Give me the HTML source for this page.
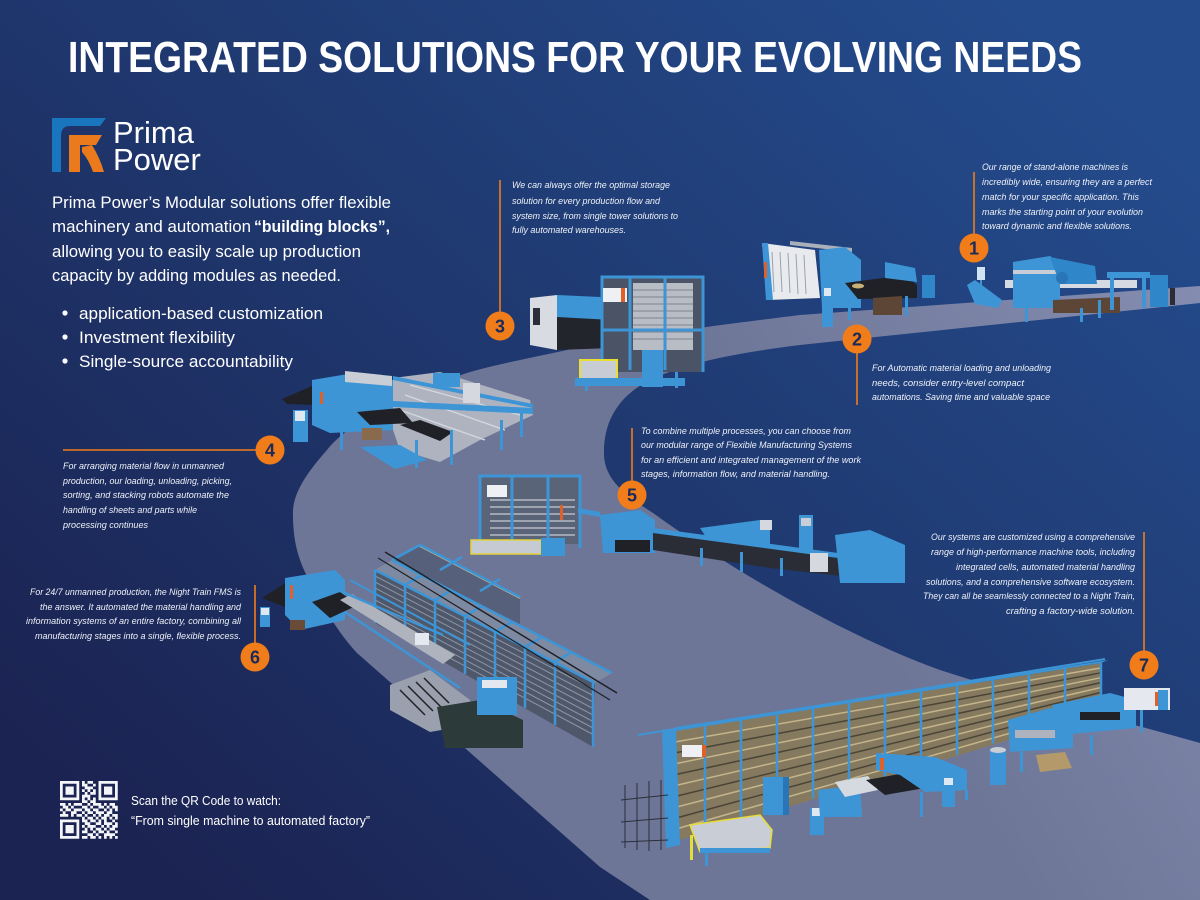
<!DOCTYPE html>
<html><head><meta charset="utf-8"><style>
html,body{margin:0;padding:0;background:#1f3570;}
svg{display:block}
text{font-family:"Liberation Sans",sans-serif;}
.it{font-style:italic;font-size:9.5px;fill:#eef1f7;}
.p{font-size:17px;fill:#ffffff;}
</style></head><body>
<svg width="1200" height="900" viewBox="0 0 1200 900" xmlns="http://www.w3.org/2000/svg">
<defs>
<linearGradient id="bg" gradientUnits="userSpaceOnUse" x1="1000" y1="0" x2="200" y2="900">
<stop offset="0" stop-color="#244b8c"/><stop offset="0.5" stop-color="#1f386f"/><stop offset="1" stop-color="#1b2352"/></linearGradient>
<linearGradient id="pg" gradientUnits="userSpaceOnUse" x1="1200" y1="280" x2="800" y2="520">
<stop offset="0" stop-color="#848db0"/><stop offset="1" stop-color="#6e7698"/></linearGradient>
</defs>
<rect width="1200" height="900" fill="url(#bg)"/>
<!-- path swoosh -->
<path d="M1200,286 L800,315 C760,320 720,325 700,328 C640,336 600,343 567,350 C520,360 490,366 467,373 C420,388 350,420 327,450 C305,475 292,495 293,515 C293,545 300,565 313,587 C325,610 340,635 357,653 L600,867 L650,900 L1200,900 L1200,743 C1100,715 1000,690 940,670 C870,645 760,590 653,513 C625,495 605,480 604,455 C603,420 620,395 650,380 C680,366 720,355 800,345 L1200,303 Z" fill="url(#pg)"/>

<!-- Title -->
<text x="68" y="72" font-size="44" font-weight="bold" fill="#fff" textLength="1014" lengthAdjust="spacingAndGlyphs">INTEGRATED SOLUTIONS FOR YOUR EVOLVING NEEDS</text>

<!-- Logo -->
<path d="M52,118 H106 L100,126 H70 Q61,126 61,136 V172 H52 Z" fill="#1a75bf"/>
<path d="M69,135 H102 L96,145 H80 V172 H69 Z" fill="#ea7a1c"/>
<path d="M82,147 L92,145 Q100,158 104,172 H93 Q89,160 82,152 Z" fill="#ea7a1c"/>
<text x="113" y="143" font-size="31" fill="#fff">Prima</text>
<text x="113" y="170" font-size="31" fill="#fff">Power</text>

<!-- Paragraph -->
<text class="p" x="52" y="208" textLength="339" lengthAdjust="spacingAndGlyphs">Prima Power’s Modular solutions offer flexible</text>
<text class="p" x="52" y="232" textLength="199" lengthAdjust="spacingAndGlyphs">machinery and automation</text>
<text class="p" x="254" y="232" font-weight="bold" textLength="136" lengthAdjust="spacingAndGlyphs">“building blocks”,</text>
<text class="p" x="52" y="257" textLength="309" lengthAdjust="spacingAndGlyphs">allowing you to easily scale up production</text>
<text class="p" x="52" y="281" textLength="289" lengthAdjust="spacingAndGlyphs">capacity by adding modules as needed.</text>
<circle cx="65" cy="313" r="2.6" fill="#fff"/><circle cx="65" cy="337" r="2.6" fill="#fff"/><circle cx="65" cy="361" r="2.6" fill="#fff"/>
<text class="p" x="79" y="319" textLength="244" lengthAdjust="spacingAndGlyphs">application-based customization</text>
<text class="p" x="79" y="343" textLength="156" lengthAdjust="spacingAndGlyphs">Investment flexibility</text>
<text class="p" x="79" y="367" textLength="214" lengthAdjust="spacingAndGlyphs">Single-source accountability</text>

<!-- ============ MACHINE 1 ============ -->
<g>
<rect x="1005" y="280" width="132" height="8" fill="#d6dae2"/>
<path d="M1013,262 L1050,256 L1060,262 L1060,308 L1013,308 Z" fill="#3d95d6"/>
<rect x="1013" y="270" width="47" height="4" fill="#c9ced6"/>
<path d="M1050,257 L1095,266 L1097,284 L1060,284 Z" fill="#2f86c8"/>
<circle cx="1062" cy="278" r="6" fill="#2a74b8"/>
<path d="M1053,300 L1120,297 L1120,313 L1053,313 Z" fill="#5e4636"/>
<rect x="1107" y="272" width="43" height="6" fill="#3d95d6"/>
<rect x="1110" y="278" width="4" height="32" fill="#3d95d6"/><rect x="1142" y="278" width="4" height="30" fill="#3d95d6"/>
<rect x="1150" y="275" width="18" height="32" fill="#2f86c8"/>
<rect x="1170" y="288" width="5" height="17" fill="#2a2d35"/>
<path d="M967,285 L975,280 L1002,300 L998,308 L975,304 Z" fill="#3d95d6"/>
<rect x="977" y="267" width="8" height="13" fill="#cfe3f2"/><rect x="980" y="280" width="2" height="25" fill="#3d95d6"/>
<rect x="1025" y="300" width="3" height="22" fill="#3d95d6"/><rect x="1080" y="308" width="3" height="14" fill="#3d95d6"/>
<rect x="1098" y="300" width="3" height="18" fill="#3d95d6"/>
</g>

<!-- ============ MACHINE 2 ============ -->
<g>
<path d="M790,241 L852,248 L852,252 L790,245 Z" fill="#aab0ba"/>
<path d="M762,243 L815,250 L820,298 L768,300 Z" fill="#e8eaee"/>
<g stroke="#9aa1ad" stroke-width="1"><line x1="772" y1="252" x2="774" y2="292"/><line x1="780" y1="252" x2="782" y2="292"/><line x1="788" y1="253" x2="790" y2="293"/><line x1="796" y1="254" x2="798" y2="294"/><line x1="804" y1="255" x2="806" y2="294"/></g>
<path d="M762,243 L768,243 L773,300 L766,300 Z" fill="#3d95d6"/>
<rect x="764" y="262" width="3" height="16" fill="#e0602a"/>
<path d="M819,250 L845,247 L861,260 L861,308 L822,308 Z" fill="#3d95d6"/>
<path d="M845,283 L905,275 L917,285 L917,298 L858,299 Z" fill="#1f2126"/>
<ellipse cx="858" cy="286" rx="6" ry="2.5" fill="#c8b27a"/>
<path d="M885,262 L915,268 L917,282 L885,278 Z" fill="#3d95d6"/>
<path d="M873,298 L902,296 L902,315 L873,315 Z" fill="#5e4636"/>
<rect x="822" y="287" width="11" height="40" fill="#3d95d6"/><rect x="824" y="288" width="7" height="8" fill="#dfe8f0"/>
<rect x="922" y="275" width="13" height="23" fill="#2f86c8"/>
<rect x="848" y="305" width="3" height="15" fill="#3d95d6"/><rect x="905" y="296" width="3" height="20" fill="#3d95d6"/>
</g>

<!-- ============ MACHINE 3 ============ -->
<g>
<path d="M530,298 L557,295 L557,350 L530,345 Z" fill="#d8dbe1"/>
<rect x="533" y="308" width="7" height="17" fill="#2a2e3a"/>
<path d="M557,295 L600,297 L612,312 L612,320 L557,318 Z" fill="#3d95d6"/>
<path d="M557,317 L612,320 L612,348 L557,350 Z" fill="#22252c"/>
<rect x="612" y="320" width="3" height="26" fill="#e0602a"/>
<rect x="602" y="277" width="101" height="95" fill="#4b5466"/>
<rect x="633" y="283" width="60" height="67" fill="#b8bcc4"/>
<g stroke="#7f8591" stroke-width="1"><line x1="633" y1="290" x2="693" y2="290"/><line x1="633" y1="297" x2="693" y2="297"/><line x1="633" y1="304" x2="693" y2="304"/><line x1="633" y1="311" x2="693" y2="311"/><line x1="633" y1="318" x2="693" y2="318"/><line x1="633" y1="325" x2="693" y2="325"/><line x1="633" y1="332" x2="693" y2="332"/><line x1="633" y1="339" x2="693" y2="339"/></g>
<g fill="none" stroke="#3d95d6" stroke-width="3"><path d="M602,372 V277 H703 V372"/><line x1="630" y1="277" x2="630" y2="370"/><line x1="665" y1="277" x2="665" y2="370"/><line x1="602" y1="330" x2="703" y2="330"/></g>
<rect x="603" y="288" width="24" height="14" fill="#eef0f3"/><rect x="621" y="288" width="4" height="14" fill="#e0602a"/>
<rect x="580" y="360" width="37" height="23" fill="#c8ccd4" stroke="#e8e030" stroke-width="2"/>
<rect x="575" y="378" width="110" height="8" fill="#3d95d6"/>
<rect x="642" y="350" width="21" height="37" fill="#3d95d6"/>
<rect x="585" y="383" width="3" height="8" fill="#3d95d6"/><rect x="675" y="372" width="3" height="16" fill="#3d95d6"/>
</g>

<!-- ============ MACHINE 4 ============ -->
<g>
<path d="M393,378 L440,372 L530,400 L533,415 L480,440 L440,462 L400,450 L393,430 Z" fill="#aeb3bf"/>
<g stroke="#d5d8de" stroke-width="1.2"><line x1="405" y1="395" x2="505" y2="430"/><line x1="410" y1="385" x2="520" y2="415"/><line x1="400" y1="410" x2="485" y2="440"/></g>
<path d="M282,399 L312,386 L316,405 L287,404 Z" fill="#1f2126"/>
<path d="M312,380 L348,374 L393,380 L393,430 L330,433 L312,425 Z" fill="#3d95d6"/>
<path d="M345,371 L392,376 L392,386 L345,382 Z" fill="#c9cdd5"/>
<rect x="320" y="392" width="3" height="12" fill="#e0602a"/>
<path d="M333,398 L533,408 L533,414 L333,404 Z" fill="#3d95d6"/>
<path d="M393,376 L533,404 L533,408 L393,380 Z" fill="#3d95d6"/>
<path d="M400,425 L420,420 L453,432 L440,441 Z" fill="#1f2126"/>
<path d="M357,412 L400,408 L413,423 L370,425 Z" fill="#1f2126"/>
<path d="M360,447 L400,445 L427,460 L395,469 Z" fill="#3d95d6"/>
<rect x="293" y="410" width="15" height="32" fill="#3d95d6"/><rect x="295" y="411" width="10" height="10" fill="#dfe8f0"/>
<rect x="433" y="373" width="27" height="14" fill="#3d95d6"/>
<rect x="463" y="383" width="17" height="20" fill="#d5d8de"/>
<rect x="362" y="428" width="20" height="12" fill="#8a6a4c"/>
<g fill="#3d95d6"><rect x="340" y="430" width="3" height="20"/><rect x="415" y="440" width="3" height="28"/><rect x="450" y="430" width="3" height="35"/><rect x="500" y="420" width="3" height="30"/><rect x="520" y="412" width="3" height="25"/></g>
</g>

<!-- ============ MACHINE 5 ============ -->
<g>
<rect x="480" y="476" width="100" height="68" fill="#5a6478"/>
<g stroke="#b5b9c2" stroke-width="1.5"><line x1="490" y1="500" x2="575" y2="500"/><line x1="490" y1="507" x2="575" y2="507"/><line x1="490" y1="514" x2="575" y2="514"/><line x1="490" y1="521" x2="575" y2="521"/><line x1="490" y1="528" x2="575" y2="528"/><line x1="490" y1="535" x2="575" y2="535"/></g>
<g fill="none" stroke="#3d95d6" stroke-width="3"><path d="M480,548 V476 H580 V548"/><line x1="512" y1="476" x2="512" y2="546"/><line x1="548" y1="476" x2="548" y2="546"/></g>
<rect x="487" y="485" width="20" height="12" fill="#eef0f3"/><rect x="560" y="505" width="3" height="15" fill="#e0602a"/>
<rect x="471" y="540" width="70" height="14" fill="#c5cad3" stroke="#e3d23a" stroke-width="1.5"/>
<rect x="541" y="538" width="24" height="18" fill="#3d95d6"/>
<path d="M578,508 L600,512 L600,517 L578,513 Z" fill="#3d95d6"/>
<path d="M600,515 L640,510 L655,520 L655,553 L603,553 Z" fill="#3d95d6"/>
<rect x="615" y="540" width="35" height="12" fill="#1f2126"/>
<path d="M653,530 L770,545 L905,565 L905,583 L770,568 L653,550 Z" fill="#2a2d35"/>
<path d="M653,528 L905,562 L905,567 L653,533 Z" fill="#3d95d6"/>
<path d="M700,528 L760,520 L770,530 L770,545 L708,540 Z" fill="#3d95d6"/>
<rect x="760" y="520" width="12" height="10" fill="#d5d8de"/>
<rect x="799" y="515" width="14" height="37" fill="#3d95d6"/><rect x="801" y="518" width="10" height="8" fill="#c9cdd5"/>
<path d="M835,535 L870,530 L905,545 L905,583 L840,583 Z" fill="#3d95d6"/>
<rect x="810" y="553" width="18" height="19" fill="#d5d8de"/>
<g fill="#3d95d6"><rect x="700" y="548" width="3" height="18"/><rect x="740" y="552" width="3" height="20"/><rect x="780" y="558" width="3" height="18"/></g>
</g>

<!-- ============ MACHINE 6 ============ -->
<g>
<!-- back row -->
<path d="M392,560 L420,545 L520,597 L520,628 L392,592 Z" fill="#56607a"/>
<line x1="420" y1="546" x2="520" y2="598" stroke="#c9b88a" stroke-width="2"/>
<!-- front wall -->
<path d="M375,570 L595,683 L593,747 L375,623 Z" fill="#4f586b"/>
<g stroke="#8d94a2" stroke-width="1">
<line x1="375" y1="576" x2="594" y2="689.5"/><line x1="375" y1="582" x2="594" y2="696"/><line x1="375" y1="588" x2="594" y2="702.5"/><line x1="375" y1="594" x2="594" y2="709"/><line x1="375" y1="600" x2="594" y2="715.5"/><line x1="375" y1="606" x2="594" y2="722"/><line x1="375" y1="612" x2="594" y2="728.5"/><line x1="375" y1="618" x2="594" y2="735"/></g>
<g stroke="#3d95d6" stroke-width="2.5"><line x1="375" y1="570" x2="375" y2="623"/><line x1="405" y1="585.4" x2="405" y2="640"/><line x1="435" y1="600.8" x2="435" y2="657"/><line x1="465" y1="616.3" x2="465" y2="674"/><line x1="495" y1="631.7" x2="495" y2="691"/><line x1="525" y1="647" x2="525" y2="708"/><line x1="555" y1="662.5" x2="555" y2="725"/><line x1="593" y1="682" x2="593" y2="747"/></g>
<!-- top face front row -->
<path d="M375,570 L392,560 L612,673 L595,683 Z" fill="#7e8aa2"/>
<g stroke="#3d95d6" stroke-width="2.5" fill="none"><line x1="375" y1="570" x2="595" y2="683"/><line x1="392" y1="560" x2="612" y2="673"/>
<line x1="405" y1="585" x2="422" y2="575"/><line x1="435" y1="600" x2="452" y2="590"/><line x1="465" y1="616" x2="482" y2="606"/><line x1="495" y1="632" x2="512" y2="622"/><line x1="525" y1="647" x2="542" y2="637"/><line x1="555" y1="662" x2="572" y2="652"/>
<line x1="392" y1="560" x2="420" y2="545"/><line x1="420" y1="545" x2="520" y2="597"/><line x1="440" y1="570" x2="462" y2="557"/><line x1="480" y1="591" x2="500" y2="579"/></g>
<line x1="385" y1="552" x2="617" y2="693" stroke="#1e2026" stroke-width="1.5"/>
<line x1="378" y1="558" x2="610" y2="700" stroke="#1e2026" stroke-width="1.2"/>
<!-- front machine -->
<path d="M262,598 L290,580 L310,588 L285,607 Z" fill="#1f2126"/>
<path d="M285,578 L335,570 L345,580 L345,620 L300,630 L285,615 Z" fill="#3d95d6"/>
<rect x="290" y="585" width="3" height="14" fill="#e0602a"/>
<path d="M312,602 L340,592 L358,605 L330,618 Z" fill="#1f2126"/>
<rect x="260" y="607" width="10" height="20" fill="#3d95d6"/><rect x="261" y="608" width="8" height="7" fill="#dfe8f0"/>
<path d="M340,600 L352,594 L455,655 L443,664 Z" fill="#aeb3be"/>
<line x1="338" y1="590" x2="443" y2="635" stroke="#3d95d6" stroke-width="2.5"/>
<line x1="345" y1="612" x2="460" y2="688" stroke="#3d95d6" stroke-width="2.5"/>
<line x1="350" y1="580" x2="470" y2="645" stroke="#3d95d6" stroke-width="2"/>
<rect x="415" y="633" width="14" height="12" fill="#e5e8ee"/>
<path d="M390,685 L430,670 L470,700 L470,725 L430,732 L390,710 Z" fill="#9aa0ad"/>
<g stroke="#1f2126" stroke-width="1.5"><line x1="400" y1="690" x2="425" y2="715"/><line x1="408" y1="686" x2="433" y2="711"/><line x1="416" y1="682" x2="441" y2="707"/><line x1="424" y1="678" x2="449" y2="703"/></g>
<path d="M437,707 L480,700 L523,720 L523,748 L445,748 Z" fill="#2d3a3a"/>
<rect x="477" y="677" width="40" height="38" fill="#3d95d6"/><rect x="482" y="680" width="25" height="8" fill="#e5e8ee"/>
<rect x="290" y="620" width="15" height="10" fill="#6a4b37"/>
</g>

<!-- ============ MACHINE 7 ============ -->
<g>
<path d="M669,732 L1101,663 L1101,712 L673,842 Z" fill="#857a60"/>
<g stroke="#c4b48a" stroke-width="1.5"><line x1="669" y1="743" x2="1101" y2="667.9"/><line x1="669" y1="765" x2="1101" y2="677.7"/><line x1="669" y1="787" x2="1101" y2="687.5"/><line x1="669" y1="809" x2="1101" y2="697.3"/><line x1="669" y1="831" x2="1101" y2="707.1"/></g>
<g stroke="#4a4436" stroke-width="1.5"><line x1="669" y1="754" x2="1101" y2="672.8"/><line x1="669" y1="776" x2="1101" y2="682.6"/><line x1="669" y1="798" x2="1101" y2="692.4"/><line x1="669" y1="820" x2="1101" y2="702.2"/></g>
<g stroke="#3d95d6" stroke-width="2.5"><line x1="705" y1="726.3" x2="705" y2="831.1"/><line x1="741" y1="720.5" x2="741" y2="820.1"/><line x1="777" y1="714.8" x2="777" y2="809.2"/><line x1="813" y1="709" x2="813" y2="798.3"/><line x1="849" y1="703.3" x2="849" y2="787.3"/><line x1="885" y1="697.5" x2="885" y2="776.4"/><line x1="921" y1="691.8" x2="921" y2="765.5"/><line x1="957" y1="686" x2="957" y2="754.5"/><line x1="993" y1="680.3" x2="993" y2="743.6"/><line x1="1029" y1="674.5" x2="1029" y2="732.7"/><line x1="1065" y1="668.8" x2="1065" y2="721.7"/><line x1="1101" y1="663" x2="1101" y2="712"/></g>
<path d="M669,732 L1101,663 L1108,660 L676,727 Z" fill="#3d95d6"/>
<line x1="638" y1="735" x2="1105" y2="659" stroke="#3d95d6" stroke-width="2"/>
<path d="M662,730 L676,728 L680,845 L666,848 Z" fill="#3d95d6"/>
<rect x="682" y="745" width="24" height="12" fill="#eef0f3"/><rect x="702" y="745" width="4" height="12" fill="#e0602a"/>
<g stroke="#2a2f3a" stroke-width="1"><line x1="625" y1="785" x2="625" y2="848"/><line x1="637" y1="783" x2="637" y2="850"/><line x1="649" y1="781" x2="649" y2="851"/><line x1="661" y1="780" x2="661" y2="850"/><line x1="621" y1="800" x2="668" y2="795"/><line x1="621" y1="822" x2="668" y2="818"/><line x1="621" y1="842" x2="668" y2="840"/></g>
<path d="M690,825 L760,815 L772,830 L770,848 L700,852 Z" fill="#c8cdd6" stroke="#e6dc3a" stroke-width="1.5"/>
<rect x="700" y="848" width="70" height="5" fill="#3d95d6"/>
<rect x="705" y="852" width="3" height="14" fill="#3d95d6"/><rect x="690" y="835" width="3" height="25" fill="#e6dc3a"/>
<rect x="763" y="777" width="26" height="38" fill="#3d95d6"/><rect x="783" y="777" width="6" height="38" fill="#2a74b8"/>
<rect x="810" y="808" width="14" height="27" fill="#3d95d6"/><rect x="812" y="808" width="10" height="8" fill="#dfe8f0"/>
<path d="M818,790 L860,785 L862,817 L820,817 Z" fill="#3d95d6"/>
<path d="M835,782 L868,776 L878,790 L845,797 Z" fill="#d5d9e0"/>
<path d="M866,780 L905,773 L925,788 L885,795 Z" fill="#1f2126"/>
<path d="M876,753 L935,757 L967,770 L967,790 L925,792 L900,775 L876,770 Z" fill="#3d95d6"/>
<rect x="880" y="758" width="4" height="12" fill="#e0602a"/>
<rect x="942" y="777" width="13" height="30" fill="#3d95d6"/><rect x="944" y="778" width="9" height="7" fill="#dfe8f0"/>
<rect x="990" y="750" width="16" height="35" fill="#3d95d6"/><ellipse cx="998" cy="750" rx="8" ry="3" fill="#c9cdd5"/>
<path d="M1008,720 L1050,708 L1073,715 L1073,748 L1010,752 Z" fill="#3d95d6"/>
<rect x="1015" y="730" width="40" height="8" fill="#aeb3be"/>
<path d="M1036,755 L1065,752 L1072,768 L1040,772 Z" fill="#b49a6a"/>
<path d="M1052,705 L1110,693 L1136,700 L1136,728 L1060,735 Z" fill="#3d95d6"/>
<rect x="1080" y="712" width="40" height="8" fill="#1f2126"/>
<rect x="1124" y="688" width="46" height="22" fill="#e5e8ee"/><rect x="1158" y="690" width="10" height="20" fill="#3d95d6"/><rect x="1155" y="692" width="3" height="14" fill="#e0602a"/>
<g fill="#3d95d6"><rect x="1140" y="710" width="3" height="22"/><rect x="1090" y="735" width="3" height="20"/><rect x="1020" y="752" width="3" height="20"/><rect x="965" y="790" width="3" height="10"/><rect x="920" y="792" width="3" height="25"/></g>
</g>

<!-- ============ Orange lines & badges ============ -->
<g stroke="#f07d1a" stroke-width="1.6">
<line x1="974" y1="172" x2="974" y2="236"/>
<line x1="857" y1="350" x2="857" y2="405"/>
<line x1="500" y1="180" x2="500" y2="314"/>
<line x1="63" y1="450" x2="258" y2="450"/>
<line x1="632" y1="428" x2="632" y2="483"/>
<line x1="255" y1="585" x2="255" y2="645"/>
<line x1="1144" y1="532" x2="1144" y2="653"/>
</g>
<g fill="#f07d1a">
<circle cx="974" cy="248" r="14.5"/><circle cx="857" cy="339" r="14.5"/><circle cx="500" cy="326" r="14.5"/><circle cx="270" cy="450" r="14.5"/><circle cx="632" cy="495" r="14.5"/><circle cx="255" cy="657" r="14.5"/><circle cx="1144" cy="665" r="14.5"/>
</g>
<g font-size="18" font-weight="bold" fill="#1c2a5a" text-anchor="middle">
<text x="974" y="254.5">1</text><text x="857" y="345.5">2</text><text x="500" y="332.5">3</text><text x="270" y="456.5">4</text><text x="632" y="501.5">5</text><text x="255" y="663.5">6</text><text x="1144" y="671.5">7</text>
</g>

<!-- ============ Text blocks ============ -->
<text class="it" x="982" y="170" textLength="146" lengthAdjust="spacingAndGlyphs">Our range of stand-alone machines is</text>
<text class="it" x="982" y="185" textLength="170" lengthAdjust="spacingAndGlyphs">incredibly wide, ensuring they are a perfect</text>
<text class="it" x="982" y="200" textLength="157" lengthAdjust="spacingAndGlyphs">match for your specific application. This</text>
<text class="it" x="982" y="215" textLength="161" lengthAdjust="spacingAndGlyphs">marks the starting point of your evolution</text>
<text class="it" x="982" y="229" textLength="150" lengthAdjust="spacingAndGlyphs">toward dynamic and flexible solutions.</text>

<text class="it" x="872" y="371" textLength="179" lengthAdjust="spacingAndGlyphs">For Automatic material loading and unloading</text>
<text class="it" x="872" y="386" textLength="152" lengthAdjust="spacingAndGlyphs">needs, consider entry-level compact</text>
<text class="it" x="872" y="400" textLength="178" lengthAdjust="spacingAndGlyphs">automations. Saving time and valuable space</text>

<text class="it" x="512" y="188" textLength="158" lengthAdjust="spacingAndGlyphs">We can always offer the optimal storage</text>
<text class="it" x="512" y="204" textLength="148" lengthAdjust="spacingAndGlyphs">solution for every production flow and</text>
<text class="it" x="512" y="219" textLength="166" lengthAdjust="spacingAndGlyphs">system size, from single tower solutions to</text>
<text class="it" x="512" y="233" textLength="114" lengthAdjust="spacingAndGlyphs">fully automated warehouses.</text>

<text class="it" x="63" y="469" textLength="161" lengthAdjust="spacingAndGlyphs">For arranging material flow in unmanned</text>
<text class="it" x="63" y="484" textLength="169" lengthAdjust="spacingAndGlyphs">production, our loading, unloading, picking,</text>
<text class="it" x="63" y="498" textLength="166" lengthAdjust="spacingAndGlyphs">sorting, and stacking robots automate the</text>
<text class="it" x="63" y="513" textLength="134" lengthAdjust="spacingAndGlyphs">handling of sheets and parts while</text>
<text class="it" x="63" y="528" textLength="85" lengthAdjust="spacingAndGlyphs">processing continues</text>

<text class="it" x="641" y="434" textLength="210" lengthAdjust="spacingAndGlyphs">To combine multiple processes, you can choose from</text>
<text class="it" x="641" y="448" textLength="211" lengthAdjust="spacingAndGlyphs">our modular range of Flexible Manufacturing Systems</text>
<text class="it" x="641" y="463" textLength="220" lengthAdjust="spacingAndGlyphs">for an efficient and integrated management of the work</text>
<text class="it" x="641" y="477" textLength="189" lengthAdjust="spacingAndGlyphs">stages, information flow, and material handling.</text>

<text class="it" x="30" y="595" textLength="211" lengthAdjust="spacingAndGlyphs">For 24/7 unmanned production, the Night Train FMS is</text>
<text class="it" x="40" y="610" textLength="201" lengthAdjust="spacingAndGlyphs">the answer. It automated the material handling and</text>
<text class="it" x="26" y="624" textLength="215" lengthAdjust="spacingAndGlyphs">information systems of an entire factory, combining all</text>
<text class="it" x="35" y="639" textLength="206" lengthAdjust="spacingAndGlyphs">manufacturing stages into a single, flexible process.</text>

<text class="it" x="931" y="540" textLength="204" lengthAdjust="spacingAndGlyphs">Our systems are customized using a comprehensive</text>
<text class="it" x="931" y="555" textLength="204" lengthAdjust="spacingAndGlyphs">range of high-performance machine tools, including</text>
<text class="it" x="956" y="570" textLength="179" lengthAdjust="spacingAndGlyphs">integrated cells, automated material handling</text>
<text class="it" x="926" y="585" textLength="209" lengthAdjust="spacingAndGlyphs">solutions, and a comprehensive software ecosystem.</text>
<text class="it" x="923" y="599" textLength="212" lengthAdjust="spacingAndGlyphs">They can all be seamlessly connected to a Night Train,</text>
<text class="it" x="1006" y="614" textLength="129" lengthAdjust="spacingAndGlyphs">crafting a factory-wide solution.</text>

<!-- ============ QR ============ -->
<g transform="translate(60,781) scale(2.75)" fill="#f4f5f8">
<path d="M0,0h7v1h-7z M8,0h1v1h-1z M10,0h2v1h-2z M14,0h7v1h-7z
M0,1h1v1h-1z M6,1h1v1h-1z M8,1h2v1h-2z M12,1h1v1h-1z M14,1h1v1h-1z M20,1h1v1h-1z
M0,2h1v1h-1z M2,2h3v1h-3z M6,2h1v1h-1z M9,2h3v1h-3z M14,2h1v1h-1z M16,2h3v1h-3z M20,2h1v1h-1z
M0,3h1v1h-1z M2,3h3v1h-3z M6,3h1v1h-1z M8,3h1v1h-1z M10,3h1v1h-1z M12,3h1v1h-1z M14,3h1v1h-1z M16,3h3v1h-3z M20,3h1v1h-1z
M0,4h1v1h-1z M2,4h3v1h-3z M6,4h1v1h-1z M9,4h1v1h-1z M11,4h2v1h-2z M14,4h1v1h-1z M16,4h3v1h-3z M20,4h1v1h-1z
M0,5h1v1h-1z M6,5h1v1h-1z M8,5h3v1h-3z M14,5h1v1h-1z M20,5h1v1h-1z
M0,6h7v1h-7z M8,6h1v1h-1z M10,6h1v1h-1z M12,6h1v1h-1z M14,6h7v1h-7z
M8,7h2v1h-2z M11,7h2v1h-2z
M0,8h2v1h-2z M3,8h1v1h-1z M5,8h3v1h-3z M10,8h1v1h-1z M12,8h3v1h-3z M16,8h1v1h-1z M18,8h2v1h-2z
M1,9h2v1h-2z M4,9h1v1h-1z M8,9h2v1h-2z M11,9h1v1h-1z M14,9h2v1h-2z M17,9h1v1h-1z M19,9h2v1h-2z
M0,10h1v1h-1z M2,10h2v1h-2z M5,10h3v1h-3z M9,10h2v1h-2z M12,10h2v1h-2z M16,10h1v1h-1z M18,10h1v1h-1z M20,10h1v1h-1z
M1,11h1v1h-1z M4,11h2v1h-2z M8,11h1v1h-1z M10,11h2v1h-2z M13,11h3v1h-3z M17,11h2v1h-2z
M0,12h3v1h-3z M4,12h1v1h-1z M6,12h2v1h-2z M9,12h1v1h-1z M12,12h1v1h-1z M14,12h1v1h-1z M16,12h2v1h-2z M19,12h2v1h-2z
M8,13h1v1h-1z M10,13h2v1h-2z M13,13h1v1h-1z M15,13h2v1h-2z M18,13h1v1h-1z M20,13h1v1h-1z
M0,14h7v1h-7z M8,14h2v1h-2z M11,14h2v1h-2z M14,14h1v1h-1z M16,14h1v1h-1z M19,14h1v1h-1z
M0,15h1v1h-1z M6,15h1v1h-1z M9,15h2v1h-2z M13,15h2v1h-2z M16,15h3v1h-3z M20,15h1v1h-1z
M0,16h1v1h-1z M2,16h3v1h-3z M6,16h1v1h-1z M8,16h1v1h-1z M10,16h3v1h-3z M15,16h1v1h-1z M17,16h1v1h-1z M19,16h2v1h-2z
M0,17h1v1h-1z M2,17h3v1h-3z M6,17h1v1h-1z M9,17h1v1h-1z M11,17h1v1h-1z M13,17h2v1h-2z M16,17h1v1h-1z M18,17h2v1h-2z
M0,18h1v1h-1z M2,18h3v1h-3z M6,18h1v1h-1z M8,18h2v1h-2z M12,18h1v1h-1z M14,18h2v1h-2z M17,18h1v1h-1z M20,18h1v1h-1z
M0,19h1v1h-1z M6,19h1v1h-1z M10,19h2v1h-2z M13,19h1v1h-1z M16,19h4v1h-4z
M0,20h7v1h-7z M8,20h2v1h-2z M11,20h2v1h-2z M14,20h1v1h-1z M16,20h1v1h-1z M18,20h1v1h-1z M20,20h1v1h-1z"/>
</g>
<text x="131" y="805" font-size="13" fill="#fff" textLength="150" lengthAdjust="spacingAndGlyphs">Scan the QR Code to watch:</text>
<text x="131" y="825" font-size="13" fill="#fff" textLength="239" lengthAdjust="spacingAndGlyphs">“From single machine to automated factory”</text>
</svg>
</body></html>
